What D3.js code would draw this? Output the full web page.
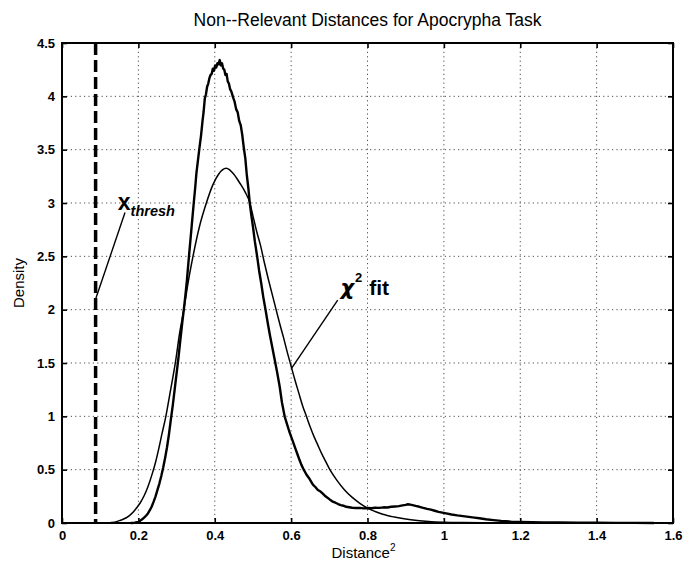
<!DOCTYPE html>
<html>
<head>
<meta charset="utf-8">
<script src="https://cdn.jsdelivr.net/npm/d3@7"></script>
<style>
  html, body { margin: 0; padding: 0; background: #fff; }
  svg { display: block; font-family: "Liberation Sans", Arial, Helvetica, sans-serif; }
</style>
</head>
<body>
<svg id="chart" width="695" height="569"></svg>
<script>
// ---------- data ----------
const titleText = "Non--Relevant Distances for Apocrypha Task";
const xTicks = [0, 0.2, 0.4, 0.6, 0.8, 1.0, 1.2, 1.4, 1.6];
const yTicks = [0, 0.5, 1, 1.5, 2, 2.5, 3, 3.5, 4, 4.5];
const xThresh = 0.088;

// empirical density (noisy histogram curve)
const empirical = [
  [0.18,0],[0.19,0.003],[0.20,0.01],[0.205,0.022],[0.21,0.035],[0.215,0.05],[0.22,0.068],[0.225,0.09],
  [0.23,0.12],[0.235,0.155],[0.24,0.2],[0.245,0.25],[0.25,0.31],[0.255,0.37],[0.26,0.44],[0.265,0.52],
  [0.27,0.61],[0.275,0.71],[0.28,0.83],[0.285,0.97],[0.29,1.1],[0.295,1.25],[0.30,1.4],[0.305,1.55],
  [0.31,1.72],[0.315,1.88],[0.319,2.0],[0.323,2.13],[0.327,2.27],[0.332,2.48],[0.336,2.64],[0.340,2.80],
  [0.345,3.0],[0.349,3.15],[0.352,3.28],[0.356,3.40],[0.360,3.52],[0.364,3.63],[0.368,3.77],[0.371,3.86],
  [0.374,3.98],[0.377,4.02],[0.380,4.09],[0.383,4.12],[0.386,4.17],[0.389,4.2],[0.392,4.21],[0.395,4.26],
  [0.398,4.24],[0.401,4.29],[0.404,4.27],[0.407,4.31],[0.410,4.30],[0.413,4.34],[0.416,4.29],[0.419,4.31],
  [0.422,4.26],[0.425,4.25],[0.428,4.2],[0.431,4.21],[0.434,4.14],[0.437,4.12],[0.440,4.07],[0.444,4.04],
  [0.448,3.99],[0.452,3.95],[0.456,3.88],[0.460,3.85],[0.464,3.77],[0.468,3.73],[0.472,3.64],[0.476,3.52],
  [0.480,3.42],[0.484,3.26],[0.488,3.14],[0.492,2.99],[0.496,2.88],[0.500,2.78],[0.505,2.64],[0.511,2.50],
  [0.516,2.37],[0.522,2.24],[0.527,2.12],[0.533,2.0],[0.539,1.87],[0.545,1.75],[0.551,1.64],[0.557,1.53],
  [0.563,1.42],[0.570,1.28],[0.576,1.13],[0.583,1.0],[0.589,0.93],[0.595,0.86],[0.600,0.81],[0.605,0.76],
  [0.611,0.70],[0.617,0.64],[0.622,0.59],[0.627,0.545],[0.633,0.50],[0.64,0.455],[0.647,0.42],[0.652,0.39],
  [0.657,0.36],[0.664,0.335],[0.670,0.31],[0.677,0.295],[0.683,0.275],[0.690,0.25],[0.696,0.235],[0.703,0.215],
  [0.709,0.2],[0.716,0.19],[0.723,0.178],[0.730,0.168],[0.737,0.162],[0.744,0.152],[0.752,0.148],[0.760,0.143],
  [0.770,0.14],[0.780,0.142],[0.790,0.137],[0.800,0.14],[0.810,0.138],[0.820,0.143],[0.831,0.142],[0.842,0.147],
  [0.852,0.145],[0.862,0.152],[0.872,0.155],[0.882,0.158],[0.892,0.165],[0.900,0.17],[0.906,0.176],[0.912,0.172],
  [0.918,0.168],[0.926,0.16],[0.936,0.152],[0.946,0.142],[0.956,0.133],[0.966,0.125],[0.976,0.115],[0.986,0.104],
  [0.996,0.097],[1.006,0.09],[1.02,0.08],[1.035,0.071],[1.05,0.064],[1.065,0.057],[1.08,0.05],[1.093,0.044],
  [1.11,0.035],[1.13,0.027],[1.15,0.02],[1.176,0.013],[1.2,0.01],[1.23,0.007],[1.26,0.005],[1.3,0.004],
  [1.35,0.003],[1.4,0.002],[1.45,0.001],[1.5,0.001],[1.55,0]
];

// chi-square fit (smooth curve)
const chiFit = [
  [0.10,0],[0.12,0.002],[0.13,0.005],[0.143,0.013],[0.152,0.024],[0.16,0.035],[0.175,0.065],[0.186,0.10],
  [0.195,0.14],[0.205,0.19],[0.215,0.255],[0.225,0.34],[0.237,0.47],[0.245,0.57],[0.253,0.69],
  [0.262,0.84],[0.272,1.0],[0.283,1.22],[0.298,1.53],[0.308,1.78],[0.319,2.0],[0.330,2.25],[0.343,2.50],
  [0.360,2.78],[0.378,3.0],[0.395,3.17],[0.41,3.27],[0.43,3.325],[0.45,3.27],[0.465,3.19],[0.48,3.1],
  [0.492,3.0],[0.50,2.88],[0.51,2.73],[0.52,2.60],[0.53,2.44],[0.54,2.29],[0.55,2.15],[0.56,2.01],
  [0.57,1.87],[0.58,1.74],[0.59,1.60],[0.60,1.47],[0.61,1.34],[0.62,1.22],[0.63,1.10],[0.64,1.0],
  [0.65,0.9],[0.66,0.81],[0.67,0.73],[0.68,0.65],[0.69,0.58],[0.70,0.51],[0.72,0.40],[0.74,0.31],
  [0.76,0.24],[0.78,0.185],[0.80,0.14],[0.82,0.108],[0.84,0.082],[0.87,0.056],[0.90,0.037],[0.93,0.024],
  [0.96,0.015],[1.0,0.008],[1.05,0.004],[1.1,0.002],[1.2,0.0005],[1.3,0]
];

// annotation anchors (data coordinates)
const threshLabel = { x: 0.146, y: 2.93, lineFrom: [0.089, 2.11], lineTo: [0.165, 2.91] };
const fitLabel = { x: 0.729, y: 2.14, lineFrom: [0.601, 1.45], lineTo: [0.722, 2.09] };

// ---------- layout ----------
const svg = d3.select("#chart");
const L = 62, R = 673, T = 43, B = 523;
const x = d3.scaleLinear().domain([0, 1.6]).range([L, R]);
const y = d3.scaleLinear().domain([0, 4.5]).range([B, T]);
const fmt = d => (d === 0 ? "0" : d3.format("~g")(d));

// grid
const grid = svg.append("g").attr("stroke", "#222").attr("stroke-width", 1)
  .attr("stroke-dasharray", "1.2,3.2").attr("opacity", 0.8);
grid.selectAll(".gx").data(xTicks.filter(d => d > 0 && d < 1.6)).join("line")
  .attr("x1", d => x(d)).attr("x2", d => x(d)).attr("y1", T).attr("y2", B);
grid.selectAll(".gy").data(yTicks.filter(d => d > 0 && d < 4.5)).join("line")
  .attr("y1", d => y(d)).attr("y2", d => y(d)).attr("x1", L).attr("x2", R);

// axes with inward ticks
const tickLen = 5;
const xAxisB = d3.axisBottom(x).tickValues(xTicks).tickFormat(fmt).tickSizeInner(-tickLen).tickSizeOuter(0).tickPadding(8);
const xAxisT = d3.axisTop(x).tickValues(xTicks).tickFormat("").tickSizeInner(-tickLen).tickSizeOuter(0);
const yAxisL = d3.axisLeft(y).tickValues(yTicks).tickFormat(fmt).tickSizeInner(-tickLen).tickSizeOuter(0).tickPadding(7);
const yAxisR = d3.axisRight(y).tickValues(yTicks).tickFormat("").tickSizeInner(-tickLen).tickSizeOuter(0);

function styleAxis(g) {
  g.select(".domain").remove();
  g.selectAll("line").attr("stroke", "#000").attr("stroke-width", 1.6);
  g.selectAll("text").attr("fill", "#000").attr("font-size", 13).attr("font-weight", "bold");
}
svg.append("g").attr("transform", `translate(0,${B})`).call(xAxisB).call(styleAxis);
svg.append("g").attr("transform", `translate(0,${T})`).call(xAxisT).call(styleAxis);
svg.append("g").attr("transform", `translate(${L},0)`).call(yAxisL).call(styleAxis);
svg.append("g").attr("transform", `translate(${R},0)`).call(yAxisR).call(styleAxis);

// frame
svg.append("rect").attr("x", L).attr("y", T).attr("width", R - L).attr("height", B - T)
  .attr("fill", "none").attr("stroke", "#000").attr("stroke-width", 2);

// threshold dashed line
svg.append("line").attr("x1", x(xThresh)).attr("x2", x(xThresh)).attr("y1", y(4.5)).attr("y2", y(0))
  .attr("stroke", "#000").attr("stroke-width", 3.5).attr("stroke-dasharray", "12,5");

// curves
svg.append("path").datum(chiFit)
  .attr("d", d3.line().x(d => x(d[0])).y(d => y(d[1])).curve(d3.curveMonotoneX))
  .attr("fill", "none").attr("stroke", "#000").attr("stroke-width", 1.5);
svg.append("path").datum(empirical)
  .attr("d", d3.line().x(d => x(d[0])).y(d => y(d[1])))
  .attr("fill", "none").attr("stroke", "#000").attr("stroke-width", 2.4).attr("stroke-linejoin", "round");

// annotations
function annLine(a) {
  svg.append("line")
    .attr("x1", x(a.lineFrom[0])).attr("y1", y(a.lineFrom[1]))
    .attr("x2", x(a.lineTo[0])).attr("y2", y(a.lineTo[1]))
    .attr("stroke", "#000").attr("stroke-width", 1.4);
}
annLine(threshLabel);
annLine(fitLabel);

const t1 = svg.append("text").attr("x", x(threshLabel.x)).attr("y", y(threshLabel.y))
  .attr("font-weight", "bold").attr("fill", "#000");
t1.append("tspan").attr("font-size", 23).text("x");
t1.append("tspan").attr("font-size", 14.5).attr("font-style", "italic").attr("dy", 6).text("thresh");

const t2 = svg.append("text").attr("x", x(fitLabel.x)).attr("y", y(fitLabel.y))
  .attr("font-weight", "bold").attr("fill", "#000").attr("font-size", 21);
t2.append("tspan").attr("font-family", "'DejaVu Sans', sans-serif").attr("font-style", "italic").text("χ");
t2.append("tspan").attr("font-size", 13).attr("dy", -13).attr("dx", 1).text("2");
t2.append("tspan").attr("dy", 13).attr("dx", 7).text("fit");

// title & axis labels
svg.append("text").attr("x", (L + R) / 2).attr("y", 26).attr("text-anchor", "middle")
  .attr("font-size", 17.5).attr("fill", "#000").text(titleText);

const xl = svg.append("text").attr("x", (L + R) / 2 - 4).attr("y", 558).attr("text-anchor", "middle")
  .attr("font-size", 15).attr("fill", "#000");
xl.append("tspan").text("Distance");
xl.append("tspan").attr("font-size", 10).attr("dy", -7).text("2");

svg.append("text").attr("transform", `translate(24,${(T + B) / 2}) rotate(-90)`)
  .attr("text-anchor", "middle").attr("font-size", 15).attr("fill", "#000").text("Density");
</script>
</body>
</html>
